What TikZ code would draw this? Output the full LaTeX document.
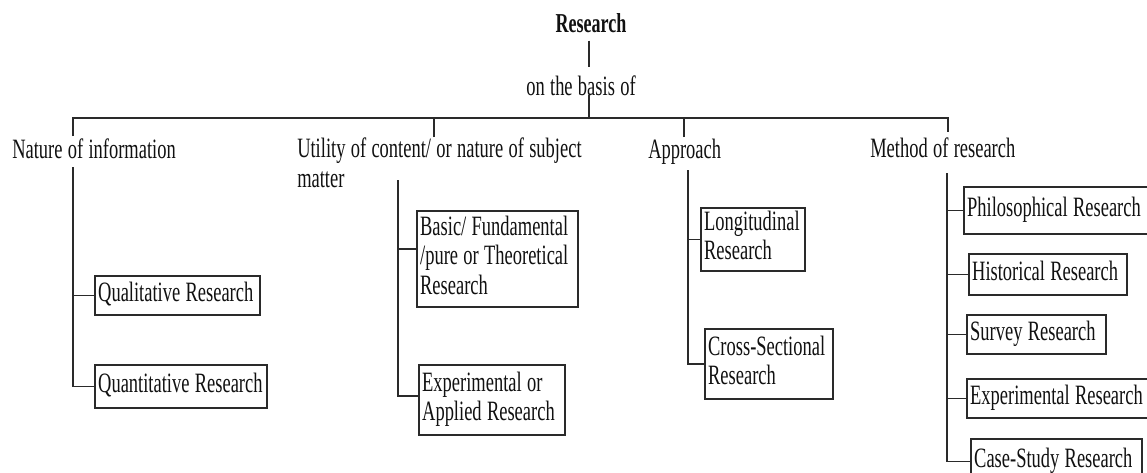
\documentclass[tikz,border=0pt]{standalone}
\usepackage{fontspec}
\setmainfont{Liberation Serif}[FakeStretch=0.66, WordSpace=1.15]
\usetikzlibrary{calc}
\definecolor{txt}{HTML}{111111}
\definecolor{ln}{HTML}{2A2A2A}
\newcommand{\boxtext}[2]{\makebox[#1][l]{\begin{tabular}{@{}l@{}}#2\end{tabular}}}
\begin{document}
\begin{tikzpicture}[x=0.75pt,y=-0.75pt,
  every node/.style={font=\fontsize{21pt}{22.1pt}\selectfont, text=txt, inner sep=0pt},
  lbl/.style={anchor=base west, align=left},
  box/.style={draw=ln, line width=1.25pt, anchor=north west, inner xsep=2.5pt, inner ysep=0pt},
  conn/.style={draw=ln, line width=1.25pt}]
\useasboundingbox (0,0) rectangle (1147,472);
\clip (0,0) rectangle (1147,472);
\fill[white] (0,0) rectangle (1147,472);

% top
\node[anchor=base, inner ysep=6pt, font=\fontsize{20.5pt}{22.1pt}\selectfont\bfseries] (root) at (591,32) {Research};
\node[anchor=base, inner ysep=6pt] (basis) at (581,95) {on the basis of};
\coordinate (j) at (589,118);
\draw[conn] (root.south -| j) -- (basis.north -| j);
\draw[conn] (basis.base -| j) -- (j);

% categories
\node[lbl] (nat) at (12,158) {Nature of information};
\node[anchor=north west, align=left] (uti) at (297,138) {Utility of content/ or nature of subject\\matter};
\node[lbl] (app) at (648,158) {Approach};
\node[lbl] (met) at (870,157) {Method of research};

\coordinate (dNat) at (73,136);
\coordinate (dUti) at (434,137);
\coordinate (dApp) at (684,137);
\coordinate (dMet) at (948,132);
\draw[conn] (dNat) -- (dNat |- j) -- (dMet |- j) -- (dMet);
\draw[conn] (dUti) -- (dUti |- j);
\draw[conn] (dApp) -- (dApp |- j);

% spines
\coordinate (sNat) at (73,167);
\coordinate (sUti) at (398,180);
\coordinate (sApp) at (688,170);
\coordinate (sMet) at (947,173);

% boxes
\node[box, minimum height=29.25pt] (qual) at (94,275) {\boxtext{118.75pt}{Qualitative Research}};
\node[box, minimum height=32.25pt] (quan) at (94,364) {\boxtext{124pt}{Quantitative Research}};

\node[box, minimum height=72pt] (basic) at (416,210) {\boxtext{115.75pt}{Basic/ Fundamental\\/pure or Theoretical\\Research}};
\node[box, minimum height=52.5pt] (appl) at (418,364) {\boxtext{104.5pt}{Experimental or\\Applied Research}};

\node[box, minimum height=47.25pt] (long) at (700,207) {\boxtext{73pt}{Longitudinal\\Research}};
\node[box, minimum height=52.5pt] (cross) at (704,328) {\boxtext{91pt}{Cross-Sectional\\Research}};

\node[box, minimum height=35.25pt] (phil) at (963,186) {\boxtext{137.5pt}{Philosophical Research}};
\node[box, minimum height=30.75pt] (hist) at (968,253) {\boxtext{113.5pt}{Historical Research}};
\node[box, minimum height=29.25pt] (surv) at (966,314) {\boxtext{99.25pt}{Survey Research}};
\node[box, minimum height=29.25pt] (expr) at (966,378) {\boxtext{137.5pt}{Experimental Research}};
\node[box, minimum height=33.75pt] (case) at (970,438) {\boxtext{123.25pt}{Case-Study Research}};

% connectors
\draw[conn] (sNat) |- (quan.west);
\draw[conn] (qual.west -| sNat) -- (qual.west);

\coordinate (bw) at ($(basic.west)+(0,-10)$);
\coordinate (aw) at ($(appl.west)+(0,-4)$);
\draw[conn] (sUti) |- (aw);
\draw[conn] (bw -| sUti) -- (bw);

\draw[conn] (sApp) |- (cross.west);
\draw[conn] (long.west -| sApp) -- (long.west);

\draw[conn] (sMet) |- (case.west);
\draw[conn] (phil.west -| sMet) -- (phil.west);
\draw[conn] (hist.west -| sMet) -- (hist.west);
\draw[conn] (surv.west -| sMet) -- (surv.west);
\draw[conn] (expr.west -| sMet) -- (expr.west);
\end{tikzpicture}
\end{document}
